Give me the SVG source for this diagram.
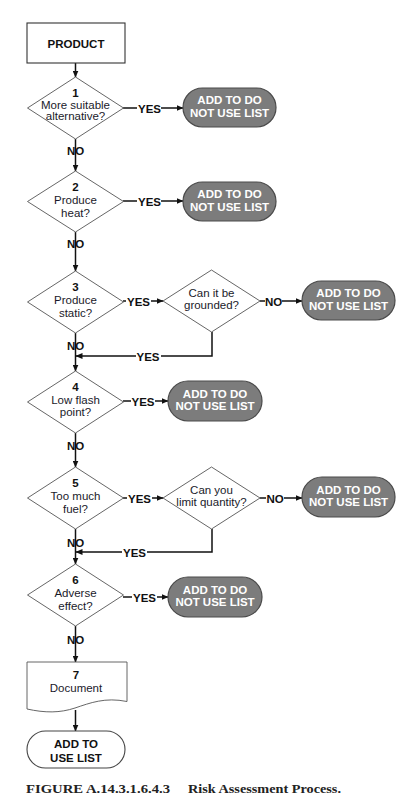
<svg xmlns="http://www.w3.org/2000/svg" width="412" height="812" viewBox="0 0 412 812">
<defs>
<marker id="ah" markerWidth="7" markerHeight="6" refX="6.5" refY="3" orient="auto" markerUnits="userSpaceOnUse">
<path d="M0,0 L7,3 L0,6 Z" fill="#111"/>
</marker>
<style>
.bg{fill:#fff}
.box{fill:#fff;stroke:#333;stroke-width:1.1}
.dia{fill:#fff;stroke:#555;stroke-width:0.9}
.term{fill:#7c7c7c;stroke:#4a4a4a;stroke-width:1.2}
.termw{fill:#fff;stroke:#444;stroke-width:1.1}
.ln{fill:none;stroke:#111;stroke-width:1.5}
.arr{fill:none;stroke:#111;stroke-width:1.5;marker-end:url(#ah)}
.t{font-family:"Liberation Sans",Arial,sans-serif;font-size:11.5px;fill:#1a1a2a;text-anchor:middle}
.b{font-family:"Liberation Sans",Arial,sans-serif;font-size:11.5px;font-weight:bold;fill:#111;text-anchor:middle}
.bw{font-family:"Liberation Sans",Arial,sans-serif;font-size:11.5px;font-weight:bold;fill:#fff;text-anchor:middle}
.lbl{font-family:"Liberation Sans",Arial,sans-serif;font-size:11.5px;font-weight:bold;fill:#111;text-anchor:middle}
.cap{font-family:"Liberation Serif","Times New Roman",serif;font-size:12.5px;font-weight:bold;fill:#222}
</style>
</defs>
<rect class="bg" x="0" y="0" width="412" height="812"/>

<g id="connectors">
<line class="arr" x1="75.5" y1="63" x2="75.5" y2="77"/>
<line class="arr" x1="75.5" y1="139" x2="75.5" y2="171"/>
<line class="arr" x1="75.5" y1="232" x2="75.5" y2="271"/>
<line class="arr" x1="75.5" y1="333" x2="75.5" y2="371"/>
<line class="arr" x1="75.5" y1="433" x2="75.5" y2="467"/>
<line class="arr" x1="75.5" y1="529" x2="75.5" y2="564"/>
<line class="arr" x1="75.5" y1="626" x2="75.5" y2="662"/>
<line class="arr" x1="75.5" y1="710" x2="75.5" y2="731"/>
<line class="ln" x1="123" y1="108" x2="137" y2="108"/>
<line class="arr" x1="161" y1="108" x2="183" y2="108"/>
<line class="ln" x1="123" y1="201" x2="137" y2="201"/>
<line class="arr" x1="161" y1="201" x2="183" y2="201"/>
<line class="ln" x1="123" y1="301" x2="126" y2="301"/>
<line class="arr" x1="151" y1="301" x2="163" y2="301"/>
<line class="ln" x1="260" y1="301" x2="265" y2="301"/>
<line class="arr" x1="282" y1="301" x2="302" y2="301"/>
<polyline class="ln" points="212,332 212,356 161,356"/>
<line class="arr" x1="136" y1="356" x2="76" y2="356"/>
<line class="ln" x1="123" y1="401" x2="131" y2="401"/>
<line class="arr" x1="155" y1="401" x2="168" y2="401"/>
<line class="ln" x1="123" y1="498" x2="127" y2="498"/>
<line class="arr" x1="152" y1="498" x2="163" y2="498"/>
<line class="ln" x1="260" y1="498" x2="266" y2="498"/>
<line class="arr" x1="284" y1="498" x2="302" y2="498"/>
<polyline class="ln" points="212,529 212,552 147,552"/>
<line class="arr" x1="122" y1="552" x2="76" y2="552"/>
<line class="ln" x1="123" y1="597" x2="132" y2="597"/>
<line class="arr" x1="157" y1="597" x2="168" y2="597"/>
</g>

<g id="labels">
<text class="lbl" x="149.5" y="112.5">YES</text>
<text class="lbl" x="149.5" y="205.5">YES</text>
<text class="lbl" x="138.5" y="305.5">YES</text>
<text class="lbl" x="273.5" y="305.5">NO</text>
<text class="lbl" x="148" y="360.5">YES</text>
<text class="lbl" x="143" y="405.5">YES</text>
<text class="lbl" x="139.5" y="502.5">YES</text>
<text class="lbl" x="275" y="502.5">NO</text>
<text class="lbl" x="134.5" y="556.5">YES</text>
<text class="lbl" x="144.5" y="601.5">YES</text>
<text class="lbl" x="75.5" y="155">NO</text>
<text class="lbl" x="75.5" y="248">NO</text>
<text class="lbl" x="75.5" y="350">NO</text>
<text class="lbl" x="75.5" y="450">NO</text>
<text class="lbl" x="75.5" y="546.5">NO</text>
<text class="lbl" x="75.5" y="644">NO</text>
</g>

<g id="product">
<rect class="box" x="27" y="23" width="98" height="40"/>
<text class="b" x="76" y="47.5">PRODUCT</text>
</g>

<g id="d1">
<polygon class="dia" points="75.5,77 123.5,108 75.5,139 27.5,108"/>
<text class="b" x="75.5" y="96.5">1</text>
<text class="t" x="75.5" y="108.5">More suitable</text>
<text class="t" x="75.5" y="120">alternative?</text>
</g>
<g id="t1">
<rect class="term" x="183" y="88" width="93" height="39" rx="19.5"/>
<text class="bw" x="229.5" y="104">ADD TO DO</text>
<text class="bw" x="229.5" y="116.5">NOT USE LIST</text>
</g>

<g id="d2">
<polygon class="dia" points="75.5,171 123.5,201.5 75.5,232 27.5,201.5"/>
<text class="b" x="75.5" y="190.5">2</text>
<text class="t" x="75.5" y="204">Produce</text>
<text class="t" x="75.5" y="216.5">heat?</text>
</g>
<g id="t2">
<rect class="term" x="183" y="182" width="93" height="39" rx="19.5"/>
<text class="bw" x="229.5" y="198">ADD TO DO</text>
<text class="bw" x="229.5" y="210.5">NOT USE LIST</text>
</g>

<g id="d3">
<polygon class="dia" points="75.5,271 123.5,302 75.5,333 27.5,302"/>
<text class="b" x="75.5" y="290.5">3</text>
<text class="t" x="75.5" y="304">Produce</text>
<text class="t" x="75.5" y="316.5">static?</text>
</g>
<g id="d3b">
<polygon class="dia" points="211.5,270 260,301 211.5,332 163,301"/>
<text class="t" x="211.5" y="296.5">Can it be</text>
<text class="t" x="211.5" y="308.5">grounded?</text>
</g>
<g id="t3">
<rect class="term" x="302" y="281" width="93" height="39" rx="19.5"/>
<text class="bw" x="348.5" y="297">ADD TO DO</text>
<text class="bw" x="348.5" y="309.5">NOT USE LIST</text>
</g>

<g id="d4">
<polygon class="dia" points="75.5,371 123.5,402 75.5,433 27.5,402"/>
<text class="b" x="75.5" y="390.5">4</text>
<text class="t" x="75.5" y="404">Low flash</text>
<text class="t" x="75.5" y="415.5">point?</text>
</g>
<g id="t4">
<rect class="term" x="168" y="381" width="94" height="40" rx="20"/>
<text class="bw" x="215" y="397.5">ADD TO DO</text>
<text class="bw" x="215" y="410">NOT USE LIST</text>
</g>

<g id="d5">
<polygon class="dia" points="75.5,467 123.5,498 75.5,529 27.5,498"/>
<text class="b" x="75.5" y="487">5</text>
<text class="t" x="75.5" y="500">Too much</text>
<text class="t" x="75.5" y="512.5">fuel?</text>
</g>
<g id="d5b">
<polygon class="dia" points="211.5,467 260,498 211.5,529 163,498"/>
<text class="t" x="211.5" y="494">Can you</text>
<text class="t" x="211.5" y="506">limit quantity?</text>
</g>
<g id="t5">
<rect class="term" x="302" y="477" width="93" height="40" rx="20"/>
<text class="bw" x="348.5" y="493.5">ADD TO DO</text>
<text class="bw" x="348.5" y="506">NOT USE LIST</text>
</g>

<g id="d6">
<polygon class="dia" points="75.5,564 123.5,595 75.5,626 27.5,595"/>
<text class="b" x="75.5" y="584">6</text>
<text class="t" x="75.5" y="597">Adverse</text>
<text class="t" x="75.5" y="609.5">effect?</text>
</g>
<g id="t6">
<rect class="term" x="168" y="577" width="94" height="40" rx="20"/>
<text class="bw" x="215" y="593.5">ADD TO DO</text>
<text class="bw" x="215" y="606">NOT USE LIST</text>
</g>

<g id="d7">
<path class="dia" d="M27,662 H127 V701.5 C105,697 90,703 75,708 C60,713 45,713 27,709 Z"/>
<text class="b" x="76" y="679">7</text>
<text class="t" x="76" y="692">Document</text>
</g>

<g id="t7">
<rect class="termw" x="27" y="731" width="98" height="37" rx="18.5"/>
<text class="b" x="76" y="748">ADD TO</text>
<text class="b" x="76" y="761.5">USE LIST</text>
</g>

<g id="caption">
<text class="cap" x="26" y="793" textLength="144" lengthAdjust="spacingAndGlyphs">FIGURE  A.14.3.1.6.4.3</text>
<text class="cap" x="188" y="793" textLength="153" lengthAdjust="spacingAndGlyphs">Risk Assessment Process.</text>
</g>
</svg>
